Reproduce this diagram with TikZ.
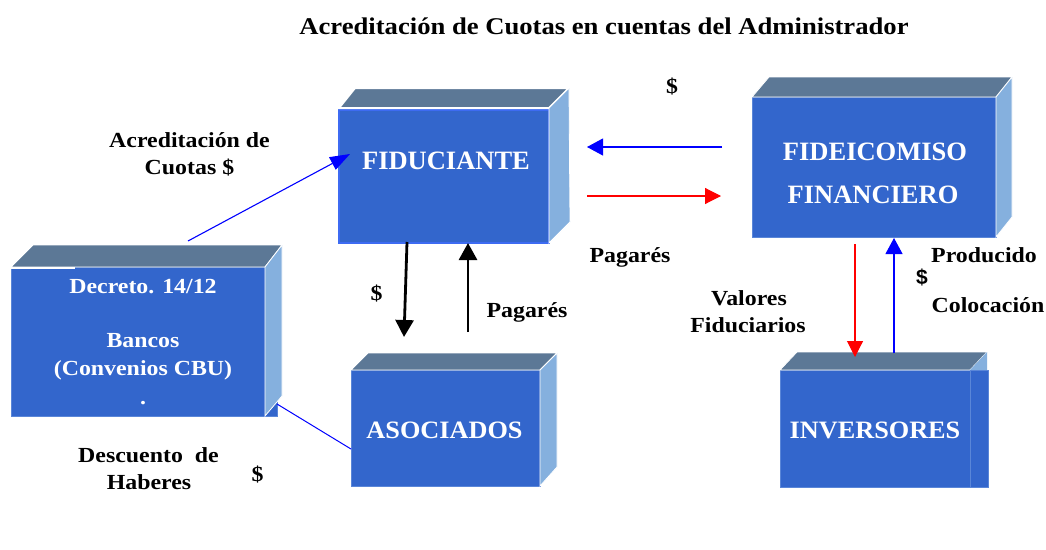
\documentclass[tikz,border=0pt]{standalone}
\usepackage{fontspec}
\setmainfont{Liberation Serif}
\newfontfamily\labf[FakeStretch=1.11]{Liberation Serif}
\newfontfamily\titf[FakeStretch=1.11]{Liberation Serif}
\newfontfamily\boxbf[FakeStretch=1.05]{Liberation Serif}
\newfontfamily\arialf{Liberation Sans}
\usetikzlibrary{arrows.meta,calc}
\definecolor{frontc}{HTML}{3366CC}
\definecolor{topc}{HTML}{5C7896}
\definecolor{sidec}{HTML}{85B0DE}
\definecolor{edgec}{HTML}{5A86D8}
\definecolor{fidedge}{HTML}{3D6BF2}
\begin{document}
\begin{tikzpicture}[x=1pt,y=-1pt,
  front/.style={fill=frontc,draw=edgec,line width=0.8pt,inner sep=0pt,outer sep=0pt},
  topface/.style={fill=topc,draw=white,line width=0.8pt},
  sideface/.style={fill=sidec,draw=white,line width=0.8pt},
  lab/.style={inner sep=0pt,anchor=base,font=\labf\bfseries\fontsize{21.5}{26}\selectfont},
  wlab/.style={lab,text=white},
  bigw/.style={inner sep=0pt,anchor=base,text=white,font=\bfseries\fontsize{26.5}{30}\selectfont},
  midw/.style={inner sep=0pt,anchor=base,text=white,font=\boxbf\bfseries\fontsize{25}{30}\selectfont},
  bluearr/.style={draw={rgb,255:red,0;green,0;blue,255},line width=1.1pt,-{Triangle[length=16pt,width=17pt]}},
  redarr/.style={draw={rgb,255:red,255;green,0;blue,0},line width=1.1pt,-{Triangle[length=16pt,width=16pt]}},
  blackarr/.style={draw=black,line width=2.8pt,-{Triangle[length=17pt,width=18pt]}},
  plainblue/.style={draw={rgb,255:red,0;green,0;blue,255},line width=1pt}
]
\useasboundingbox[fill=white] (0,0) rectangle (1046,549);

% Title
\node[inner sep=0pt,anchor=base,font=\titf\bfseries\fontsize{24}{28}\selectfont] (title) at (604,34) {Acreditación de Cuotas en cuentas del Administrador};

% Bancos box
\node[front,minimum width=266pt,minimum height=149pt] (banc) at (144,341.5) {};
\fill[topface] (11,267) -- (33,245) -- (282,245) -- (265,267) -- cycle;
\fill[sideface] (265,267) -- (282,245) -- (282,396) -- (265,416) -- cycle;
\draw[white,line width=1.8pt] (11,268) -- (75,268);
\node[wlab] (bt1) at (143,293) {Decreto. 14/12};
\node[wlab] (bt2) at (143,347) {Bancos};
\node[wlab] (bt3) at (143,375) {(Convenios CBU)};
\node[wlab] (bt4) at (143,404) {.};

% FIDUCIANTE box
\node[front,draw=fidedge,line width=1.5pt,minimum width=210pt,minimum height=133pt] (fid) at (444,176.5) {};
\path[topface,line width=2pt] (339,108) -- (355,88) -- (569,88) -- (549,108) -- cycle;
\path[sideface] (549,108) -- (569,88) -- (570,222) -- (549,243) -- cycle;
\node[bigw] (fidt) at (446,169) {FIDUCIANTE};

% FIDEICOMISO box
\node[front,minimum width=244pt,minimum height=140pt] (fin) at (874,167) {};
\path[topface] (752,97) -- (769,77) -- (1012,77) -- (996,97) -- cycle;
\path[sideface] (996,97) -- (1012,77) -- (1012,217) -- (996,237) -- cycle;
\node[bigw] (fint1) at (875,160) {FIDEICOMISO};
\node[bigw] (fint2) at (873,203) {FINANCIERO};

% ASOCIADOS box
\node[front,minimum width=189pt,minimum height=116pt] (aso) at (445.5,428) {};
\path[topface] (351,370) -- (368,353) -- (557,353) -- (540,370) -- cycle;
\path[sideface] (540,370) -- (557,353) -- (557,467) -- (540,486) -- cycle;
\node[midw] (asot) at (444.5,438) {ASOCIADOS};

% INVERSORES box
\node[front,minimum width=190pt,minimum height=117pt] (inv) at (875,428.5) {};
\path[topface] (780,370) -- (797,352) -- (987,352) -- (970,370) -- cycle;
\fill[sidec] (970,370) -- (987,352) -- (987,370) -- cycle;
\path[front] (970,370) rectangle (988,487);
\node[midw] (invt) at (875,438) {INVERSORES};

% Connectors
\draw[bluearr,-{Triangle[length=20pt,width=14pt]}] ($(banc.north west)+(177,-26)$) -- ($(fid.north west)+(11,44)$);
\draw[plainblue] ($(banc.south east)+(0,-12)$) -- ($(aso.west)+(0,21)$);
\draw[blackarr] ($(fid.south west)+(68,-1)$) -- ($(aso.north west)+(53,-33)$);
\draw[blackarr] ($(aso.north west)+(117,-38)$) -- ($(fid.south west)+(129,0)$);
\draw[bluearr] ($(fin.west)+(-30,-20)$) -- ($(fid.east)+(38,-29.5)$);
\draw[redarr] ($(fid.east)+(38,19.5)$) -- ($(fin.west)+(-31,29)$);
\draw[redarr] ($(fin.south west)+(103,7)$) -- ($(inv.north west)+(75,-13)$);
\draw[bluearr] ($(inv.north west)+(114,-17)$) -- ($(fin.south west)+(142,1)$);

% Labels
\node[lab] (l1a) at (189.5,147) {Acreditación de};
\node[lab] (l1b) at (189.5,174) {Cuotas \$};
\node[lab] (l2) at (672,93) {\$};
\node[lab] (l3) at (630,262) {Pagarés};
\node[lab] (l4) at (376.5,300) {\$};
\node[lab] (l5) at (527,317) {Pagarés};
\node[lab] (l6a) at (749,305) {Valores};
\node[lab] (l6b) at (748,332) {Fiduciarios};
\node[lab] (l7a) at (984,262) {Producido};
\node[inner sep=0pt,anchor=base,font=\arialf\bfseries\fontsize{21}{26}\selectfont] (l7b) at (922,284) {\$};
\node[lab] (l7c) at (988,312) {Colocación};
\node[lab] (l8a) at (148.5,462) {Descuento\ \ de};
\node[lab] (l8b) at (149,489) {Haberes};
\node[lab] (l9) at (257.5,481) {\$};
\end{tikzpicture}
\end{document}
